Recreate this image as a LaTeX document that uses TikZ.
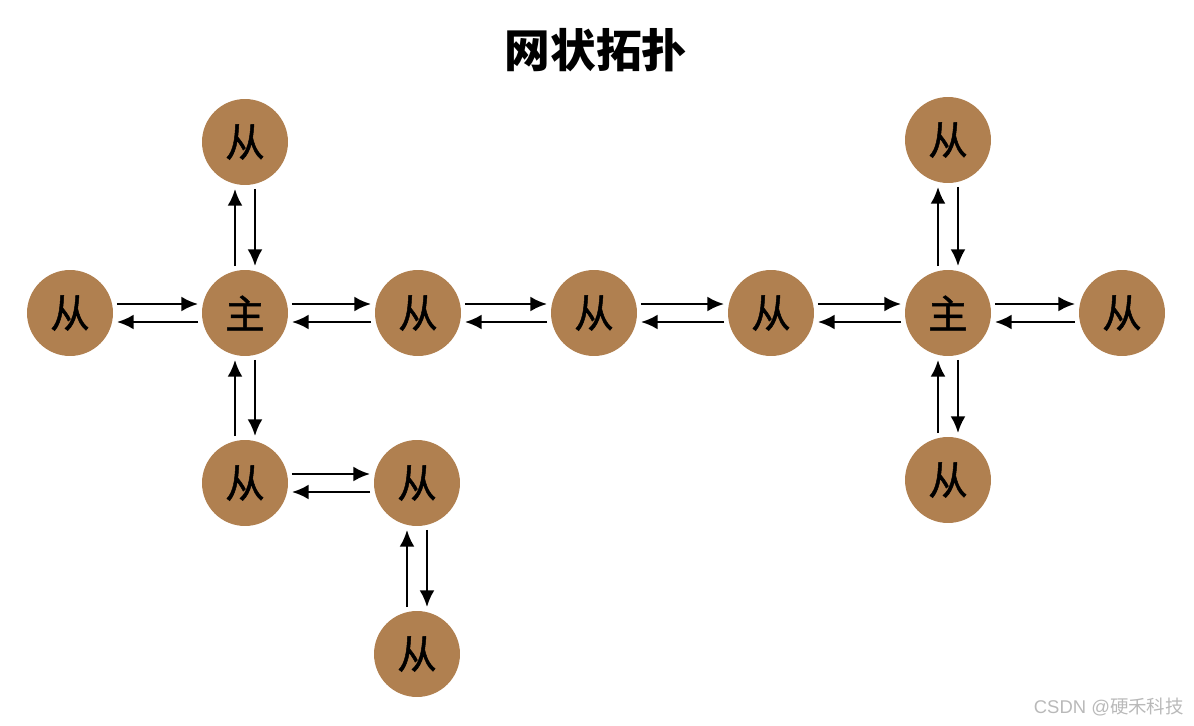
\documentclass[tikz,border=0pt]{standalone}
\usepackage{fontspec}
\usetikzlibrary{arrows.meta}
\newfontfamily\cjk{Noto Sans CJK SC}
\newfontfamily\cjkmid[FakeBold=1.2]{Noto Sans CJK SC}
\definecolor{nodebrown}{RGB}{176,128,80}
\definecolor{markgray}{RGB}{185,185,185}

\tikzset{
  unit/.style={circle,fill=nodebrown,inner sep=0pt,minimum size=1.72cm,
    font=\cjkmid\fontsize{22.5}{24}\selectfont},
  link/.style={-{Latex[length=9.5pt,width=8.5pt]},line width=1.6pt,
    shorten >=2pt,shorten <=2pt}
}

% horizontal pair: upper to the right, lower to the left
\newcommand{\pairh}[2]{%
  \draw[link] ([yshift=0.18cm]#1.east) -- ([yshift=0.18cm]#2.west);
  \draw[link] ([yshift=-0.18cm]#2.west) -- ([yshift=-0.18cm]#1.east);}
% vertical pair: left goes up, right goes down
\newcommand{\pairv}[2]{%
  \draw[link] ([xshift=-0.2cm]#2.north) -- ([xshift=-0.2cm]#1.south);
  \draw[link] ([xshift=0.2cm]#1.south) -- ([xshift=0.2cm]#2.north);}

\begin{document}
\begin{tikzpicture}[x=0.02cm,y=-0.02cm]
  \useasboundingbox (0,0) rectangle (1194,726);

  % Title
  \node[font=\cjk\bfseries\fontsize{26}{30}\selectfont] (title) at (596,50) {网状拓扑};

  % Masters
  \node[unit] (m1) at (245,313) {主};
  \node[unit] (m2) at (948,313) {主};

  % Slaves
  \node[unit] (sa) at (70,313) {从};
  \node[unit] (sb) at (245,142) {从};
  \node[unit] (sc) at (418,313) {从};
  \node[unit] (sd) at (594,313) {从};
  \node[unit] (se) at (771,313) {从};
  \node[unit] (sf) at (245,483) {从};
  \node[unit] (sg) at (417,483) {从};
  \node[unit] (sh) at (417,654) {从};
  \node[unit] (si) at (948,140) {从};
  \node[unit] (sj) at (1122,313) {从};
  \node[unit] (sk) at (948,480) {从};

  % Links along the chain
  \foreach \a/\b in {sa/m1,m1/sc,sc/sd,sd/se,se/m2,m2/sj,sf/sg}
    \pairh{\a}{\b};
  \foreach \a/\b in {sb/m1,m1/sf,sg/sh,si/m2,m2/sk}
    \pairv{\a}{\b};

  % Watermark
  \node[anchor=east,text=markgray,font=\fontsize{10.5}{12}\selectfont] (mark) at (1190,707)
    {\fontspec{Liberation Sans}CSDN @\cjk 硬禾科技};

\end{tikzpicture}
\end{document}
